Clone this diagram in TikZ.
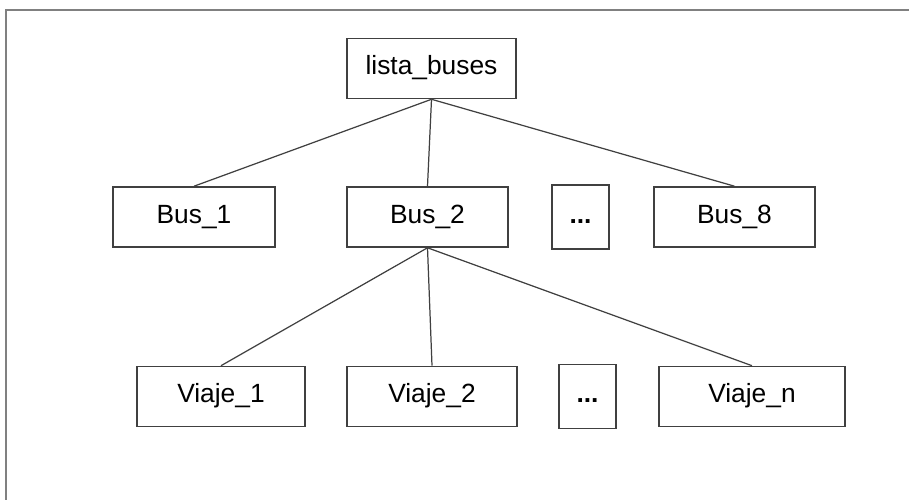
\documentclass[tikz,border=0pt]{standalone}
\usepackage{fontspec}
\setmainfont{Liberation Sans}
\begin{document}
\begin{tikzpicture}[x=0.02cm, y=-0.02cm, box/.style={rectangle, draw=black!75, line width=0.9pt, fill=white, inner sep=0pt, minimum height=1.2cm, text height=0.72em, text depth=0pt, font=\fontsize{15}{18}\selectfont}, edge/.style={draw=black!75, line width=0.7pt}]
\useasboundingbox (0,0) rectangle (909,500);
\draw[black!50, line width=1.2pt] (6,500) -- (6,10) -- (909,10);
\node[box, minimum width=3.38cm] (root) at (431.5, 68.5) {lista\_buses};
\node[box, minimum width=3.24cm] (bus1) at (194, 217) {Bus\_1};
\node[box, minimum width=3.22cm] (bus2) at (427.5, 217) {Bus\_2};
\node[box, minimum width=1.14cm, minimum height=1.28cm] (busdots) at (580.5, 217) {\textbf{...}};
\node[box, minimum width=3.22cm] (bus8) at (734.5, 217) {Bus\_8};
\node[box, minimum width=3.36cm] (viaje1) at (221, 396.5) {Viaje\_1};
\node[box, minimum width=3.40cm] (viaje2) at (432, 396.5) {Viaje\_2};
\node[box, minimum width=1.14cm, minimum height=1.28cm] (viajedots) at (587.5, 396.5) {\textbf{...}};
\node[box, minimum width=3.72cm] (viajen) at (752, 396.5) {Viaje\_n};
\draw[edge] (root.south) -- (bus1.north);
\draw[edge] (root.south) -- (bus2.north);
\draw[edge] (root.south) -- (bus8.north);
\draw[edge] (bus2.south) -- (viaje1.north);
\draw[edge] (bus2.south) -- (viaje2.north);
\draw[edge] (bus2.south) -- (viajen.north);
\end{tikzpicture}
\end{document}
